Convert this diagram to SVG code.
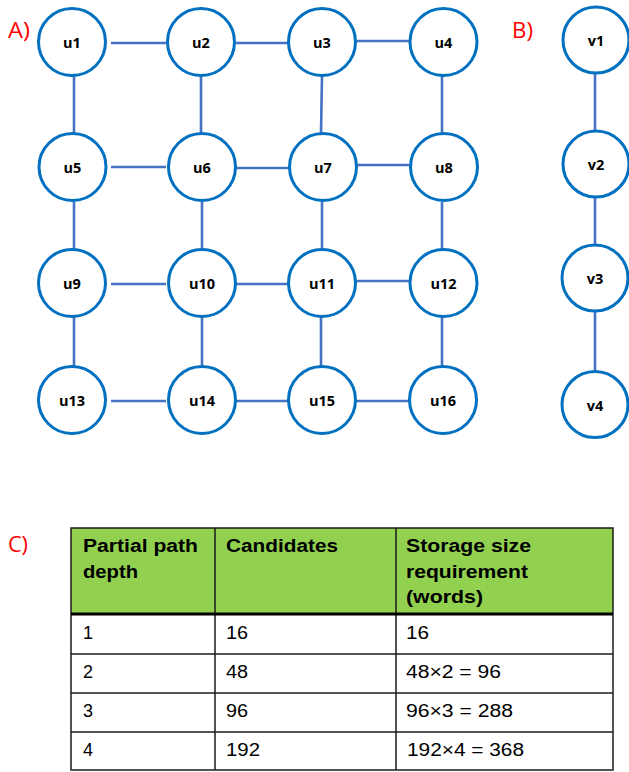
<svg xmlns="http://www.w3.org/2000/svg" width="629" height="772" viewBox="0 0 629 772">
<style>
.node circle{fill:#fff;stroke:#0070C0;stroke-width:3}
.node text{font-family:"Open Sans","Liberation Sans",sans-serif;font-weight:700;font-size:14.5px;fill:#000;text-anchor:middle}
#connectors line{stroke:#4472C4;stroke-width:2.6}
.lbl{font-family:"Open Sans","Liberation Sans",sans-serif;font-size:21px;fill:#FF0000}
.th{font-family:"Liberation Sans",Arial,sans-serif;font-weight:700;font-size:18px;fill:#000}
.td{font-family:"Liberation Sans",Arial,sans-serif;font-size:18px;fill:#000}
.grid{stroke:#1a1a1a;stroke-width:1.5;fill:none}
</style>
<rect width="629" height="772" fill="#fff"/>
<text class="lbl" x="8" y="38" textLength="22" lengthAdjust="spacingAndGlyphs">A)</text>
<text class="lbl" x="512" y="38" textLength="21" lengthAdjust="spacingAndGlyphs">B)</text>
<text class="lbl" x="8" y="552" textLength="20" lengthAdjust="spacingAndGlyphs">C)</text>
<g id="connectors">
<line x1="111" y1="43" x2="166" y2="43"/>
<line x1="236" y1="43" x2="288" y2="43"/>
<line x1="357" y1="41" x2="409" y2="41"/>
<line x1="111" y1="167" x2="166" y2="167"/>
<line x1="236" y1="168" x2="290" y2="168"/>
<line x1="357" y1="165" x2="409" y2="165"/>
<line x1="111" y1="284" x2="166" y2="284"/>
<line x1="236" y1="284" x2="290" y2="284"/>
<line x1="356" y1="281" x2="409" y2="281"/>
<line x1="111" y1="401" x2="166" y2="401"/>
<line x1="235" y1="401" x2="290" y2="401"/>
<line x1="356" y1="401" x2="409" y2="401"/>
<line x1="74" y1="76" x2="74" y2="133"/>
<line x1="201" y1="77" x2="201" y2="133"/>
<line x1="322" y1="76" x2="321" y2="133"/>
<line x1="442" y1="76" x2="442" y2="133"/>
<line x1="74" y1="202" x2="74" y2="249"/>
<line x1="202" y1="202" x2="202" y2="249"/>
<line x1="322" y1="202" x2="322" y2="249"/>
<line x1="442" y1="202" x2="442" y2="249"/>
<line x1="74" y1="317" x2="74" y2="366"/>
<line x1="202" y1="317" x2="202" y2="366"/>
<line x1="321" y1="317" x2="321" y2="366"/>
<line x1="442" y1="317" x2="442" y2="366"/>
<line x1="595" y1="73" x2="595" y2="130"/>
<line x1="595" y1="197" x2="595" y2="244"/>
<line x1="595" y1="312" x2="595" y2="371"/>
</g>
<g id="u1" class="node"><circle cx="72" cy="42" r="33.5"/><text x="72" y="48">u1</text></g>
<g id="u2" class="node"><circle cx="201" cy="42" r="33.5"/><text x="201" y="48">u2</text></g>
<g id="u3" class="node"><circle cx="322" cy="42" r="33.5"/><text x="322" y="48">u3</text></g>
<g id="u4" class="node"><circle cx="443.5" cy="42" r="33.5"/><text x="443.5" y="48">u4</text></g>
<g id="u5" class="node"><circle cx="72.5" cy="167" r="33.5"/><text x="72.5" y="173">u5</text></g>
<g id="u6" class="node"><circle cx="202" cy="167" r="33.5"/><text x="202" y="173">u6</text></g>
<g id="u7" class="node"><circle cx="323" cy="167" r="33.5"/><text x="323" y="173">u7</text></g>
<g id="u8" class="node"><circle cx="444" cy="167" r="33.5"/><text x="444" y="173">u8</text></g>
<g id="u9" class="node"><circle cx="72" cy="283" r="33.5"/><text x="72" y="289">u9</text></g>
<g id="u10" class="node"><circle cx="202" cy="283" r="33.5"/><text x="202" y="289">u10</text></g>
<g id="u11" class="node"><circle cx="322" cy="283" r="33.5"/><text x="322" y="289">u11</text></g>
<g id="u12" class="node"><circle cx="443.5" cy="283" r="33.5"/><text x="443.5" y="289">u12</text></g>
<g id="u13" class="node"><circle cx="72" cy="400" r="33.5"/><text x="72" y="406">u13</text></g>
<g id="u14" class="node"><circle cx="202" cy="400" r="33.5"/><text x="202" y="406">u14</text></g>
<g id="u15" class="node"><circle cx="322" cy="400" r="33.5"/><text x="322" y="406">u15</text></g>
<g id="u16" class="node"><circle cx="443" cy="400" r="33.5"/><text x="443" y="406">u16</text></g>
<g id="v1" class="node"><circle cx="596" cy="40" r="33"/><text x="596" y="46">v1</text></g>
<g id="v2" class="node"><circle cx="596" cy="164" r="33"/><text x="596" y="170">v2</text></g>
<g id="v3" class="node"><circle cx="595" cy="278" r="33"/><text x="595" y="284">v3</text></g>
<g id="v4" class="node"><circle cx="595" cy="404.5" r="33"/><text x="595" y="410.5">v4</text></g>
<g id="table">
<rect x="71" y="528" width="542" height="86" fill="#92D050"/>
<rect class="grid" x="71" y="528" width="542" height="242" stroke="#404040"/>
<line class="grid" x1="215" y1="528" x2="215" y2="770"/>
<line class="grid" x1="396" y1="528" x2="396" y2="770"/>
<line x1="71" y1="614" x2="613" y2="614" stroke="#000" stroke-width="3"/>
<line class="grid" x1="71" y1="654" x2="613" y2="654"/>
<line class="grid" x1="71" y1="693" x2="613" y2="693"/>
<line class="grid" x1="71" y1="732" x2="613" y2="732"/>
<text class="th" x="83" y="552" textLength="115" lengthAdjust="spacingAndGlyphs">Partial path</text>
<text class="th" x="83" y="578" textLength="55" lengthAdjust="spacingAndGlyphs">depth</text>
<text class="th" x="226" y="552" textLength="112" lengthAdjust="spacingAndGlyphs">Candidates</text>
<text class="th" x="406" y="552" textLength="125" lengthAdjust="spacingAndGlyphs">Storage size</text>
<text class="th" x="406" y="578" textLength="122" lengthAdjust="spacingAndGlyphs">requirement</text>
<text class="th" x="406" y="603" textLength="77" lengthAdjust="spacingAndGlyphs">(words)</text>
<text class="td" x="83" y="639">1</text>
<text class="td" x="226" y="639" textLength="22" lengthAdjust="spacingAndGlyphs">16</text>
<text class="td" x="406" y="639" textLength="23" lengthAdjust="spacingAndGlyphs">16</text>
<text class="td" x="83" y="678">2</text>
<text class="td" x="226" y="678" textLength="22" lengthAdjust="spacingAndGlyphs">48</text>
<text class="td" x="406" y="678" textLength="95" lengthAdjust="spacingAndGlyphs">48×2 = 96</text>
<text class="td" x="83" y="717">3</text>
<text class="td" x="226" y="717" textLength="22" lengthAdjust="spacingAndGlyphs">96</text>
<text class="td" x="406" y="717" textLength="107" lengthAdjust="spacingAndGlyphs">96×3 = 288</text>
<text class="td" x="83" y="756">4</text>
<text class="td" x="226" y="756" textLength="34" lengthAdjust="spacingAndGlyphs">192</text>
<text class="td" x="407" y="756" textLength="117" lengthAdjust="spacingAndGlyphs">192×4 = 368</text>
</g>
</svg>
